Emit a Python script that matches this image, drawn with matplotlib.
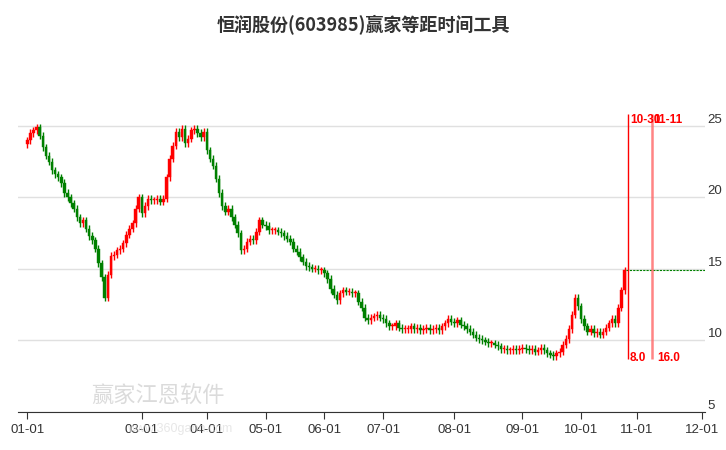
import matplotlib
matplotlib.use("Agg")
import matplotlib.pyplot as plt
import numpy as np

plt.rcParams["font.family"] = ["Liberation Sans", "Noto Sans CJK SC"]

title = "恒润股份(603985)赢家等距时间工具"
closes = [24.0, 24.5, 24.7, 24.9, 24.3, 23.5, 22.9, 22.5, 21.9, 21.6,
          21.4, 21.0, 20.3, 20.0, 19.6, 19.2, 18.6,
          18.2, 18.4, 17.8, 17.3, 17.0, 16.4, 15.4, 14.4,
          13.0, 14.6, 15.9, 16.0, 16.3, 16.4, 16.8, 17.4, 17.8, 18.2,
          19.2, 20.0, 18.9, 19.4, 19.9, 19.8, 19.8, 19.9, 19.7, 19.9,
          21.4, 22.7, 23.6, 24.6, 24.2, 24.8, 23.8, 24.1, 24.7, 24.8, 24.5, 24.2, 24.6,
          23.3, 22.7, 22.2, 21.3, 20.3, 19.4, 19.0, 19.2, 18.6, 18.1,
          17.5, 16.3, 16.4, 16.9, 17.1, 17.0, 17.6, 18.4, 18.1, 18.0,
          17.7, 17.7, 17.7, 17.6, 17.5, 17.3, 17.1, 16.9, 16.4, 16.2, 15.8, 15.5,
          15.2, 15.1, 15.0, 15.0, 14.9, 14.9, 14.7, 14.3, 13.6, 13.2, 12.8, 13.3,
          13.5, 13.4, 13.4, 13.3, 13.3, 12.7, 12.3, 11.6, 11.4, 11.6, 11.7, 11.8,
          11.6, 11.5, 11.2, 11.0, 11.0, 11.2, 10.9, 10.8, 10.8, 10.8,
          11.0, 10.8, 10.9, 10.7, 10.8, 10.9, 10.7, 10.8, 10.9, 10.7,
          11.0, 11.2, 11.5, 11.3, 11.2, 11.4, 11.1, 11.0,
          10.8, 10.6, 10.4, 10.2, 10.1, 10.0, 9.9, 9.8, 9.8, 9.7, 9.6, 9.4,
          9.4, 9.3, 9.3, 9.4, 9.3, 9.4, 9.5, 9.4, 9.3, 9.4, 9.2, 9.3, 9.5, 9.3, 9.1, 9.0,
          8.9, 9.1, 9.2, 9.7, 10.1, 10.8, 11.8, 13.0, 12.4, 11.5,
          11.0, 10.6, 10.8, 10.5, 10.6, 10.4, 10.6, 10.9, 11.2, 11.5,
          11.2, 12.3, 13.5, 14.9]
tick_idx = [0, 37, 58, 77, 96, 115, 138, 160, 179, 197, 218]
tick_labels = ["01-01", "03-01", "04-01", "05-01", "06-01", "07-01",
               "08-01", "09-01", "10-01", "11-01", "12-01"]
yticks = [5, 10, 15, 20, 25]
line1_label, line1_val = "10-30", "8.0"
line2_label, line2_val = "11-11", "16.0"
line2_offset = 8
last_price = 14.9

n = len(closes)
x = np.arange(n)
c = np.array(closes)
o = np.concatenate([[c[0] - 0.3], c[:-1]])
hi = np.maximum(o, c) + 0.25
lo = np.minimum(o, c) - 0.25

fig = plt.figure(figsize=(7.26, 4.5), dpi=100)
ax = fig.add_axes([18/726, 38/450, 687/726, 352/450])
up = c >= o
cols = np.where(up, "#ff0000", "#008000")
ax.vlines(x, lo, hi, colors=cols, linewidth=1)
h = np.abs(c - o)
h = np.where(h < 0.08, 0.08, h)
ax.bar(x, h, bottom=np.minimum(o, c), width=0.8, color=cols, edgecolor=cols, linewidth=0.3)

x1 = n
x2 = n + line2_offset
ax.plot([x1 - 0.5, 219], [last_price, last_price], color="#008000", lw=0.8, ls=(0, (2, 1)))
ax.vlines([x1], 8.7, 25.8, colors="#ff0000", lw=1)
ax.vlines([x2], 8.7, 25.8, colors="#ff6666", lw=1.8, alpha=0.8)
ax.text(x1 + 0.8, 25.4, line1_label, color="red", fontsize=8.5, fontweight="bold", va="center")
ax.text(x2 + 0.3, 25.4, line2_label, color="red", fontsize=8.5, fontweight="bold", va="center")
ax.text(x1 + 0.8, 8.8, line1_val, color="red", fontsize=8.5, fontweight="bold", va="center")
ax.text(x2 + 1.5, 8.8, line2_val, color="red", fontsize=8.5, fontweight="bold", va="center")

ax.set_xlim(-3, 219)
ax.set_ylim(5, 29.6)
ax.yaxis.tick_right()
ax.set_yticks(yticks)
ax.set_xticks(tick_idx)
ax.set_xticklabels(tick_labels)
ax.tick_params(axis="y", length=0, labelsize=9.5, colors="#333333", pad=2)
ax.tick_params(axis="x", length=5, labelsize=9.5, colors="#333333")
for t in ax.get_yticklabels():
    t.set_verticalalignment("bottom")
ax.grid(axis="y", color="#e0e0e0", lw=1)
ax.set_axisbelow(True)
for s in ["top", "right", "left"]:
    ax.spines[s].set_visible(False)
ax.spines["bottom"].set_color("#333333")

fig.text(0.5, 0.945, title, ha="center", va="center", fontsize=13, fontweight="bold", color="#333333",
         family="Noto Sans CJK SC")
fig.text(0.125, 0.105, "赢家江恩软件", fontsize=16, color="#cccccc", alpha=0.7, family="Noto Sans CJK SC")
fig.text(0.175, 0.04, "www.360gann.com", fontsize=9, color="#dddddd", alpha=0.7)

fig.savefig("out.png", dpi=100)
